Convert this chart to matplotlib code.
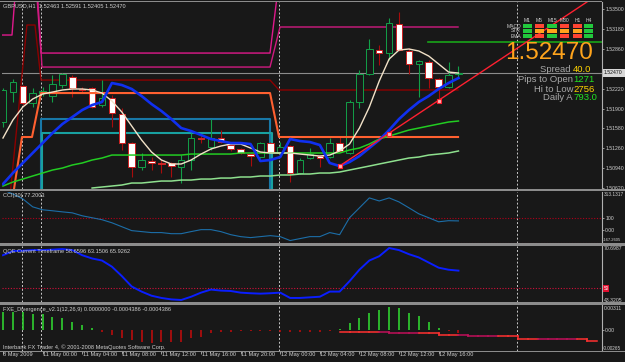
import numpy as np
import matplotlib
matplotlib.use('Agg')
import matplotlib.pyplot as plt
from matplotlib.patches import Rectangle
from matplotlib import font_manager

# ---------------- data ----------------
bars = np.arange(47)
opens = [1.51683, 1.52165, 1.52262, 1.51988, 1.52149, 1.52101, 1.52278, 1.52407, 1.52214, 1.52230,
         1.51956, 1.52069, 1.51812, 1.51345, 1.50959, 1.51056, 1.51024, 1.51024, 1.50959, 1.51072,
         1.51426, 1.51281, 1.51426, 1.51313, 1.51249, 1.51168, 1.51120, 1.51345, 1.51185, 1.51297,
         1.50863, 1.51104, 1.51136, 1.51120, 1.51345, 1.51185, 1.52005, 1.52455, 1.52841, 1.52792,
         1.53259, 1.52825, 1.52616, 1.52648, 1.52374, 1.52246, 1.52463]
highs = [1.52230, 1.52374, 1.52278, 1.52230, 1.52246, 1.52439, 1.52471, 1.52439, 1.52246, 1.52246,
         1.52358, 1.52117, 1.51908, 1.51361, 1.51185, 1.51120, 1.51072, 1.51040, 1.51152, 1.51506,
         1.51474, 1.51731, 1.51554, 1.51345, 1.51265, 1.51185, 1.51361, 1.51361, 1.51361, 1.51313,
         1.51104, 1.51265, 1.51152, 1.51426, 1.51442, 1.52037, 1.52519, 1.53018, 1.52921, 1.53355,
         1.53452, 1.52873, 1.52680, 1.52680, 1.52390, 1.52648, 1.52591]
lows = [1.51603, 1.52005, 1.51956, 1.51924, 1.52101, 1.52005, 1.52230, 1.52085, 1.52149, 1.51908,
        1.51924, 1.51603, 1.51233, 1.50799, 1.50911, 1.50911, 1.50863, 1.50799, 1.50702, 1.50911,
        1.51345, 1.51233, 1.51345, 1.51217, 1.51168, 1.50976, 1.51104, 1.51185, 1.51152, 1.50718,
        1.50847, 1.51088, 1.50959, 1.51104, 1.51201, 1.51168, 1.51908, 1.52439, 1.52600, 1.52680,
        1.52825, 1.52455, 1.52085, 1.52230, 1.52037, 1.52230, 1.52405]
closes = [1.52198, 1.52326, 1.51988, 1.52149, 1.52181, 1.52294, 1.52455, 1.52230, 1.52198, 1.51924,
          1.52069, 1.51828, 1.51345, 1.50959, 1.51072, 1.51024, 1.51016, 1.50976, 1.51072, 1.51426,
          1.51410, 1.51426, 1.51361, 1.51249, 1.51185, 1.51136, 1.51345, 1.51201, 1.51281, 1.50863,
          1.51072, 1.51168, 1.51104, 1.51345, 1.51217, 1.52005, 1.52455, 1.52857, 1.52792, 1.53275,
          1.52841, 1.52616, 1.52664, 1.52390, 1.52246, 1.52439, 1.52470]

ma_blue = [1.50686, 1.50863, 1.51024, 1.51185, 1.51345, 1.51506, 1.51651, 1.51763, 1.51876, 1.51956,
           1.52005, 1.52310, 1.52278, 1.52214, 1.52101, 1.51972, 1.51860, 1.51731, 1.51586, 1.51538,
           1.51474, 1.51410, 1.51377, 1.51345, 1.51345, 1.51329, 1.51056, 1.51072, 1.51120, 1.51410,
           1.51377, 1.51361, 1.51313, 1.51024, 1.50975, 1.51040, 1.51136, 1.51265, 1.51394, 1.51554,
           1.51731, 1.51876, 1.52005, 1.52101, 1.52214, 1.52310, 1.52390]
ma_cream = [1.51426, 1.51715, 1.51924, 1.52053, 1.52133, 1.52165, 1.52198, 1.52214, 1.52214, 1.52198,
            1.52149, 1.52021, 1.51844, 1.51619, 1.51394, 1.51201, 1.51072, 1.51008, 1.51008, 1.51072,
            1.51168, 1.51249, 1.51297, 1.51329, 1.51329, 1.51265, 1.51201, 1.51185, 1.51185, 1.51185,
            1.51168, 1.51152, 1.51136, 1.51152, 1.51217, 1.51329, 1.51586, 1.51924, 1.52342, 1.52696,
            1.52841, 1.52857, 1.52825, 1.52744, 1.52616, 1.52487, 1.52471]
ma_green = [1.50654, 1.50718, 1.50766, 1.50815, 1.50863, 1.50911, 1.50943, 1.50992, 1.51024, 1.51072,
            1.51104, 1.51152, 1.51152, 1.51152, 1.51152, 1.51152, 1.51152, 1.51152, 1.51152, 1.51168,
            1.51168, 1.51168, 1.51168, 1.51168, 1.51185, 1.51185, 1.51185, 1.51185, 1.51185, 1.51185,
            1.51185, 1.51185, 1.51185, 1.51185, 1.51185, 1.51233, 1.51265, 1.51329, 1.51410, 1.51458,
            1.51506, 1.51554, 1.51586, 1.51619, 1.51651, 1.51683, 1.51699]
ma_lightgreen = [np.nan] * 9 + [
            1.50622, 1.50638, 1.50654, 1.50670, 1.50702, 1.50702, 1.50718, 1.50734, 1.50734, 1.50750,
            1.50750, 1.50766, 1.50766, 1.50782, 1.50782, 1.50799, 1.50799, 1.50815, 1.50815, 1.50831,
            1.50831, 1.50847, 1.50847, 1.50863, 1.50863, 1.50879, 1.50911, 1.50943, 1.50975, 1.51008,
            1.51040, 1.51072, 1.51104, 1.51120, 1.51152, 1.51168, 1.51185, 1.51217]

# level lines (bar position, price)
magenta_a1_x = [-0.1, 0.91, 1.21]
magenta_a1_y = [1.53082, 1.53082, 1.53700]
magenta_a2_x = [3.43, 3.84, 26.97, 27.68]
magenta_a2_y = [1.53700, 1.52792, 1.52792, 1.53700]
magenta_b_x = [3.50, 3.94, 26.97, 27.98, 45.96]
magenta_b_y = [1.53700, 1.52567, 1.52567, 1.53211, 1.53211]
darkred_x = [0.71, 2.42, 3.23, 3.84, 26.97, 27.88, 45.96]
darkred_y = [1.50500, 1.53243, 1.53243, 1.52358, 1.52358, 1.52198, 1.52198]
orange_x = [1.01, 1.92, 2.93, 3.84, 26.97, 27.88, 45.96]
orange_y = [1.50500, 1.51442, 1.51442, 1.52149, 1.52149, 1.51442, 1.51442]
teal_hi_x = [3.84, 3.84, 26.97, 26.97]
teal_hi_y = [1.50500, 1.51731, 1.51731, 1.50500]
teal_lo_x = [3.94, 3.94, 27.17, 27.17]
teal_lo_y = [1.50500, 1.51506, 1.51506, 1.50500]
green_level_x = [42.93, 60.5]
green_level_y = [1.52969, 1.52969]
bid_price = 1.52470
trend_x = [34, 39, 44]
trend_y = [1.50976, 1.51490, 1.52021]
separators = [1.92, 3.84, 27.9, 51.95]

cci = [330, 297, 257, 192, 168, 160, 151, 143, 119, 103, 87, 62, 30, -2, -10, -18, -18, -27, -27, -10,
       6, 6, -10, -35, -51, -59, -51, -43, -51, -83, -67, -51, -51, -18, -35, 103, 184, 265, 240, 265,
       232, 184, 135, 103, 70, 79, 77.2]
qqe = [66.2, 68.2, 68.4, 68.7, 68.7, 68.9, 69.2, 68.7, 66.2, 64.6, 63.6, 60.6, 56.0, 50.9, 48.4, 46.4,
       45.3, 44.6, 44.3, 45.9, 47.9, 49.4, 48.9, 48.7, 47.9, 47.6, 47.4, 47.6, 47.9, 45.3, 45.3, 45.6,
       45.9, 48.4, 48.4, 53.5, 59.1, 63.6, 65.7, 69.7, 68.7, 66.7, 65.1, 62.6, 60.1, 59.1, 58.66]
fxe_hist = [0.00223, 0.00223, 0.00223, 0.00198, 0.00198, 0.00164, 0.00144, 0.00101, 0.00060, 0.00023,
            -0.00028, -0.00065, -0.00106, -0.00128, -0.00149, -0.00169, -0.00149, -0.00149, -0.00149,
            -0.00106, -0.00086, -0.00044, -0.00031, -0.00024, -0.00019, -0.00019, -0.00019, -0.00019,
            -0.00028, -0.00028, -0.00028, -0.00028, -0.00024, -0.00010, 0.00010, 0.00081, 0.00144,
            0.00214, 0.00248, 0.00289, 0.00277, 0.00214, 0.00173, 0.00094, 0.00026, -0.00019, -0.00044]
fxe_sig_x = np.arange(34, 61)
fxe_sig = [-0.00028, -0.00028, -0.00028, -0.00028, -0.00028, -0.00040, -0.00040, -0.00040, -0.00040,
           -0.00040, -0.00065, -0.00065, -0.00065, -0.00078, -0.00078, -0.00078, -0.00078, -0.00078,
           -0.00115, -0.00115, -0.00115, -0.00115, -0.00115, -0.00115, -0.00115, -0.00140, -0.00140]

time_tick_bars = [0, 4, 8, 12, 16, 20, 24, 28, 32, 36, 40, 44]
time_labels = ['8 May 2009', '11 May 00:00', '11 May 04:00', '11 May 08:00', '11 May 12:00',
               '11 May 16:00', '11 May 20:00', '12 May 00:00', '12 May 04:00', '12 May 08:00',
               '12 May 12:00', '12 May 16:00']
price_ticks = [1.53500, 1.53180, 1.52860, 1.52220, 1.51900, 1.51580, 1.51260, 1.50940, 1.50620]

tf_names = ['M1', 'M5', 'M15', 'M30', 'H1', 'H4']
row_names = ['MACD', 'STR', 'EMA']
G, R, O = '#22C83C', '#FF4433', '#FFA41C'
signal_colors = [[G, R, G, R, R, G],
                 [G, O, O, O, O, G],
                 [G, R, G, R, R, G]]

# ---------------- figure ----------------
W, H = 625, 362
BG = '#181818'
TXT = '#D0D0D0'
fig = plt.figure(figsize=(W / 100, H / 100), dpi=100)
fig.patch.set_facecolor(BG)


def has_font(name):
    try:
        font_manager.findfont(font_manager.FontProperties(family=name), fallback_to_default=False)
        return True
    except Exception:
        return False


if has_font('Liberation Sans Narrow'):
    SMALL, SFS = 'Liberation Sans Narrow', 4.6
elif has_font('DejaVu Sans Condensed'):
    SMALL, SFS = 'DejaVu Sans Condensed', 4.2
else:
    SMALL, SFS = 'Liberation Sans', 4.1
RFS = SFS * 0.9   # right-axis label size (must fit in the 21 px margin)
INFO = 'Liberation Sans'


def rect(x0, y0, x1, y1):
    return [x0 / W, 1 - y1 / H, (x1 - x0) / W, (y1 - y0) / H]


def P(x, y):
    return x / W, 1 - y / H


ax_main = fig.add_axes(rect(2, 2, 602, 189))
ax_cci = fig.add_axes(rect(2, 192, 602, 243))
ax_qqe = fig.add_axes(rect(2, 246, 602, 302))
ax_fxe = fig.add_axes(rect(2, 305, 602, 351))
axes = [ax_main, ax_cci, ax_qqe, ax_fxe]
for ax in axes:
    ax.set_facecolor(BG)
    ax.set_xlim(-0.1, 60.5)
    for s in ['top', 'left', 'bottom']:
        ax.spines[s].set_visible(False)
    ax.spines['right'].set_color('#B0B0B0')
    ax.spines['right'].set_linewidth(0.8)
    ax.set_xticks([])
    ax.yaxis.tick_right()
    ax.tick_params(axis='y', colors='#B0B0B0', length=1.5, width=0.6, pad=0.8,
                   labelsize=RFS, labelcolor=TXT)
    for xv in separators:
        ax.axvline(xv, color='#C8C8C8', lw=0.7, ls=(0, (2, 2)), zorder=1)

# ---- main ----
ax_main.set_ylim(1.50606, 1.53613)
ax_main.set_yticks(price_ticks)
ax_main.set_yticklabels(['%.5f' % v for v in price_ticks], family=SMALL)
ax_main.axhline(bid_price, color='#8C8C8C', lw=0.8, zorder=1)

ax_main.plot(magenta_a1_x, magenta_a1_y, color='#E0188C', lw=1.0, zorder=2)
ax_main.plot(magenta_a2_x, magenta_a2_y, color='#E0188C', lw=1.0, zorder=2)
ax_main.plot(magenta_b_x, magenta_b_y, color='#D01A80', lw=1.0, zorder=2)
ax_main.plot(darkred_x, darkred_y, color='#8C0000', lw=1.0, zorder=2)
ax_main.plot(teal_hi_x, teal_hi_y, color='#1878A8', lw=1.5, zorder=2)
ax_main.plot(teal_lo_x, teal_lo_y, color='#18A0A0', lw=1.5, zorder=2)
ax_main.plot(green_level_x, green_level_y, color='#18A418', lw=1.2, zorder=2)

for i in bars:
    o, h, l, c = opens[i], highs[i], lows[i], closes[i]
    bull = c >= o
    wc = '#12A048' if bull else '#A80C0C'
    ax_main.vlines(i, l, h, color=wc, lw=0.8, zorder=3)
    lo, hi = min(o, c), max(o, c)
    if bull:
        fc, ec = BG, '#12A048'
    else:
        fc, ec = '#FFFFFF', '#D02020'
    ax_main.add_patch(Rectangle((i - 0.33, lo), 0.66, max(hi - lo, 0.00003),
                                facecolor=fc, edgecolor=ec, lw=0.7, zorder=4))

ax_main.plot(orange_x, orange_y, color='#FF6030', lw=1.5, zorder=5)
ax_main.plot(bars, ma_lightgreen, color='#8EE08E', lw=1.1, zorder=5)
ax_main.plot(bars, ma_green, color='#22CC22', lw=1.1, zorder=5)
ax_main.plot(bars, ma_cream, color='#F2E2C8', lw=1.0, zorder=6)
ax_main.plot(bars, ma_blue, color='#1030F0', lw=1.9, zorder=6)

# trend line ray
slope = (trend_y[-1] - trend_y[-2]) / (trend_x[-1] - trend_x[-2])
ray_x = [trend_x[0], 62]
ray_y = [trend_y[0], trend_y[-1] + slope * (62 - trend_x[-1])]
ax_main.plot(ray_x, ray_y, color='#FF2030', lw=1.0, zorder=7)
ax_main.plot(trend_x, trend_y, ls='none', marker='s', ms=2.6, mfc='#FFB0B0', mec='#FF2030',
             mew=0.8, zorder=8)

# ---- CCI ----
ax_cci.set_ylim(-103, 313.13)
ax_cci.set_yticks([100, 0])
ax_cci.set_yticklabels(['100', '0.00'], family=SMALL)
for lv in (100, -100):
    ax_cci.axhline(lv, color='#B00018', lw=0.8, ls=(0, (1, 1.5)), zorder=1)
ax_cci.plot(bars, cci, color='#1C6EA8', lw=0.8, zorder=3)

# ---- QQE ----
ax_qqe.set_ylim(43.3205, 70.6987)
ax_qqe.set_yticks([])
ax_qqe.axhline(50, color='#D0103A', lw=0.8, ls=(0, (1, 1.5)), zorder=1)
ax_qqe.plot(bars, qqe, color='#0A1EFF', lw=1.4, zorder=3)

# ---- FXE ----
ax_fxe.set_ylim(-0.00265, 0.00311)
ax_fxe.set_yticks([0.0])
ax_fxe.set_yticklabels(['0.00'], family=SMALL)
for i in bars:
    v = fxe_hist[i]
    ax_fxe.vlines(i, 0, v, color='#30D030' if v > 0 else '#B80C0C', lw=1.2, zorder=3)
for k in range(len(fxe_sig_x) - 1):
    col = '#FF3030' if (k // 4) % 2 == 0 else '#C0105A'
    ax_fxe.plot(fxe_sig_x[k:k + 2], [fxe_sig[k], fxe_sig[k]], color=col, lw=1.1, zorder=4)
    ax_fxe.plot([fxe_sig_x[k + 1]] * 2, [fxe_sig[k], fxe_sig[k + 1]], color=col, lw=1.1, zorder=4)

# time axis
ax_fxe.set_xticks(time_tick_bars)
ax_fxe.set_xticklabels([])
ax_fxe.tick_params(axis='x', colors='#B0B0B0', length=2, width=0.6, bottom=True)
for b, lab in zip(time_tick_bars, time_labels):
    ax_fxe.text(b + 0.05, -0.03, lab, transform=ax_fxe.get_xaxis_transform(), ha='left', va='top',
                fontsize=SFS, color=TXT, family=SMALL, clip_on=False)

# ---- separators / frame ----
for y0, y1 in [(188.6, 191.2), (243.4, 246.0), (302.3, 304.9), (351.0, 352.2)]:
    fig.add_artist(Rectangle(P(0, y1), 1, (y1 - y0) / H, transform=fig.transFigure,
                             facecolor='#8C8C8C', edgecolor='none'))
fig.add_artist(Rectangle(P(0, 1.8), 602 / W, 0.8 / H, transform=fig.transFigure,
                         facecolor='#8C8C8C', edgecolor='none'))


# ---- panel titles ----
def ftext(x, y, s, **kw):
    kw.setdefault('fontsize', SFS)
    kw.setdefault('color', TXT)
    kw.setdefault('family', SMALL)
    kw.setdefault('va', 'center')
    fig.text(*P(x, y), s, **kw)


ftext(3, 6, 'GBPUSD,H1  1.52463 1.52591 1.52405 1.52470')
ftext(3, 196, 'CCI(30) 77.2003')
ftext(3, 252, 'QQE Current Timeframe 58.6596 63.1506 65.9262')
ftext(3, 310, 'FXE_Divergence_v2.1(12,26,9) 0.0000000 -0.0004386 -0.0004386')
ftext(3, 347, 'Interbank FX Trader 4, \u00a9 2001-2008 MetaQuotes Software Corp.')

# right axis special labels
ftext(603.5, 195, '313.1317', fontsize=RFS * 0.92)
ftext(603, 240, '-167.2605', fontsize=RFS * 0.8)
ftext(603.5, 249, '70.6987', fontsize=RFS)
ftext(603.5, 300, '43.3205', fontsize=RFS)
fig.add_artist(Rectangle(P(603, 292), 6 / W, 7 / H, transform=fig.transFigure,
                         facecolor='#E01030', edgecolor='none'))
ftext(603.6, 288.5, '50', color='#FFFFFF', fontsize=RFS * 0.9)
ftext(603.5, 309, '0.00311', fontsize=RFS)
ftext(603, 348, '-0.00265', fontsize=RFS * 0.9)
fig.add_artist(Rectangle(P(603, 76.5), 22 / W, 8 / H, transform=fig.transFigure,
                         facecolor='#D8D8D8', edgecolor='none'))
ftext(603.5, 72.5, '1.52470', color='#101010', fontsize=RFS)

# ---- info panel ----
cols_x = [(523, 532), (535, 544), (547, 557), (560, 569), (573, 582), (584, 593)]
rows_y = [(24.5, 27.5), (29.5, 32.5), (34.5, 37.5)]
for j, name in enumerate(tf_names):
    ftext((cols_x[j][0] + cols_x[j][1]) / 2, 20.5, name, ha='center', fontsize=3.6)
for r, name in enumerate(row_names):
    ftext(521, (rows_y[r][0] + rows_y[r][1]) / 2, name, ha='right', fontsize=3.6)
    for j in range(6):
        x0, x1 = cols_x[j]
        y0, y1 = rows_y[r]
        fig.add_artist(Rectangle(P(x0, y1), (x1 - x0) / W, (y1 - y0) / H, transform=fig.transFigure,
                                 facecolor=signal_colors[r][j], edgecolor='none'))

fig.text(*P(593, 53), '1.52470', ha='right', va='center', color='#FFA41C', fontsize=17.5,
         family=INFO)
info_rows = [('Spread ', '40.0', '#FFD400', 70),
             ('Pips to Open', '1271', '#22E022', 79),
             ('Hi to Low', '2756', '#FFD400', 89),
             ('Daily A', '793.0', '#22E022', 98)]
for lab, val, vc, yy in info_rows:
    fig.text(*P(573, yy), lab, ha='right', va='center', color='#A8A8A8', fontsize=6.8, family=INFO)
    fig.text(*P(573, yy), val, ha='left', va='center', color=vc, fontsize=6.8, family=INFO)

fig.savefig('out.png', dpi=100, facecolor=BG)
